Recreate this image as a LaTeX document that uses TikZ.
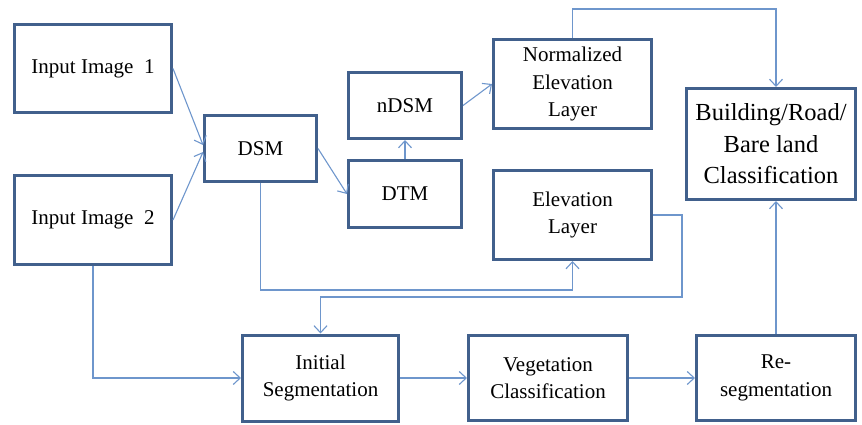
\documentclass[tikz,border=0pt]{standalone}
\usepackage{fontspec}
\setmainfont{Liberation Serif}
\usetikzlibrary{arrows.meta}
\definecolor{boxc}{HTML}{41608C}
\definecolor{linec}{HTML}{6E96CC}
\begin{document}
\begin{tikzpicture}[x=1pt,y=-1pt,
 box/.style={draw=boxc,line width=3pt,fill=white,inner sep=0pt,align=center,font=\rmfamily\fontsize{21}{27.5}\selectfont},
 bigbox/.style={box,font=\rmfamily\fontsize{24.5}{31.5}\selectfont},
 conn/.style={draw=linec,line width=1.1pt,-{Straight Barb[length=7pt,width=13pt]}}]
\useasboundingbox (0,0) rectangle (862,425);
\node[box,minimum width=157pt,minimum height=88pt] (in1) at (93,68.5) {Input Image\ \ 1};
\node[box,minimum width=157pt,minimum height=89pt] (in2) at (93,220) {Input Image\ \ 2};
\node[box,minimum width=112pt,minimum height=66pt] (dsm) at (260.5,148.5) {DSM};
\node[box,minimum width=113pt,minimum height=66pt] (ndsm) at (405,105.5) {nDSM};
\node[box,minimum width=113pt,minimum height=67pt] (dtm) at (405,194) {DTM};
\node[box,minimum width=158pt,minimum height=89pt] (nel) at (572.5,84) {Normalized\\Elevation\\Layer};
\node[box,minimum width=158pt,minimum height=89pt] (el) at (572.5,215) {Elevation\\Layer};
\node[bigbox,minimum width=169pt,minimum height=111pt] (bld) at (771,144) {Building/Road/\\Bare land\\Classification};
\node[box,minimum width=156pt,minimum height=86pt] (iseg) at (320.5,378) {Initial\\Segmentation};
\node[box,minimum width=159pt,minimum height=85pt] (veg) at (548,378) {Vegetation\\Classification};
\node[box,minimum width=159pt,minimum height=85pt] (reseg) at (776,378) {Re-\\segmentation};
\coordinate (t) at (776,9);
\coordinate (elr) at (682,215);
\coordinate (elb) at (682,297);
\draw[conn] (in1.east) -- ([yshift=3.5pt]dsm.west);
\draw[conn] (in2.east) -- ([yshift=-3.5pt]dsm.west);
\draw[conn] (dsm.east) -- (dtm.west);
\draw[conn] (dtm.north) -- (ndsm.south);
\draw[conn] (ndsm.east) -- (nel.west);
\draw[conn] (nel.north) |- (t) -- (t |- bld.north);
\draw[conn] (el.east) -- (elr) -- (elb) -| (iseg.north);
\draw[conn] (dsm.south) -- (dsm.south |- 0,290) -| (el.south);
\draw[conn] (in2.south) |- (iseg.west);
\draw[conn] (iseg.east) -- (veg.west);
\draw[conn] (veg.east) -- (reseg.west);
\draw[conn] (reseg.north) -- (reseg.north |- bld.south);
\end{tikzpicture}
\end{document}
